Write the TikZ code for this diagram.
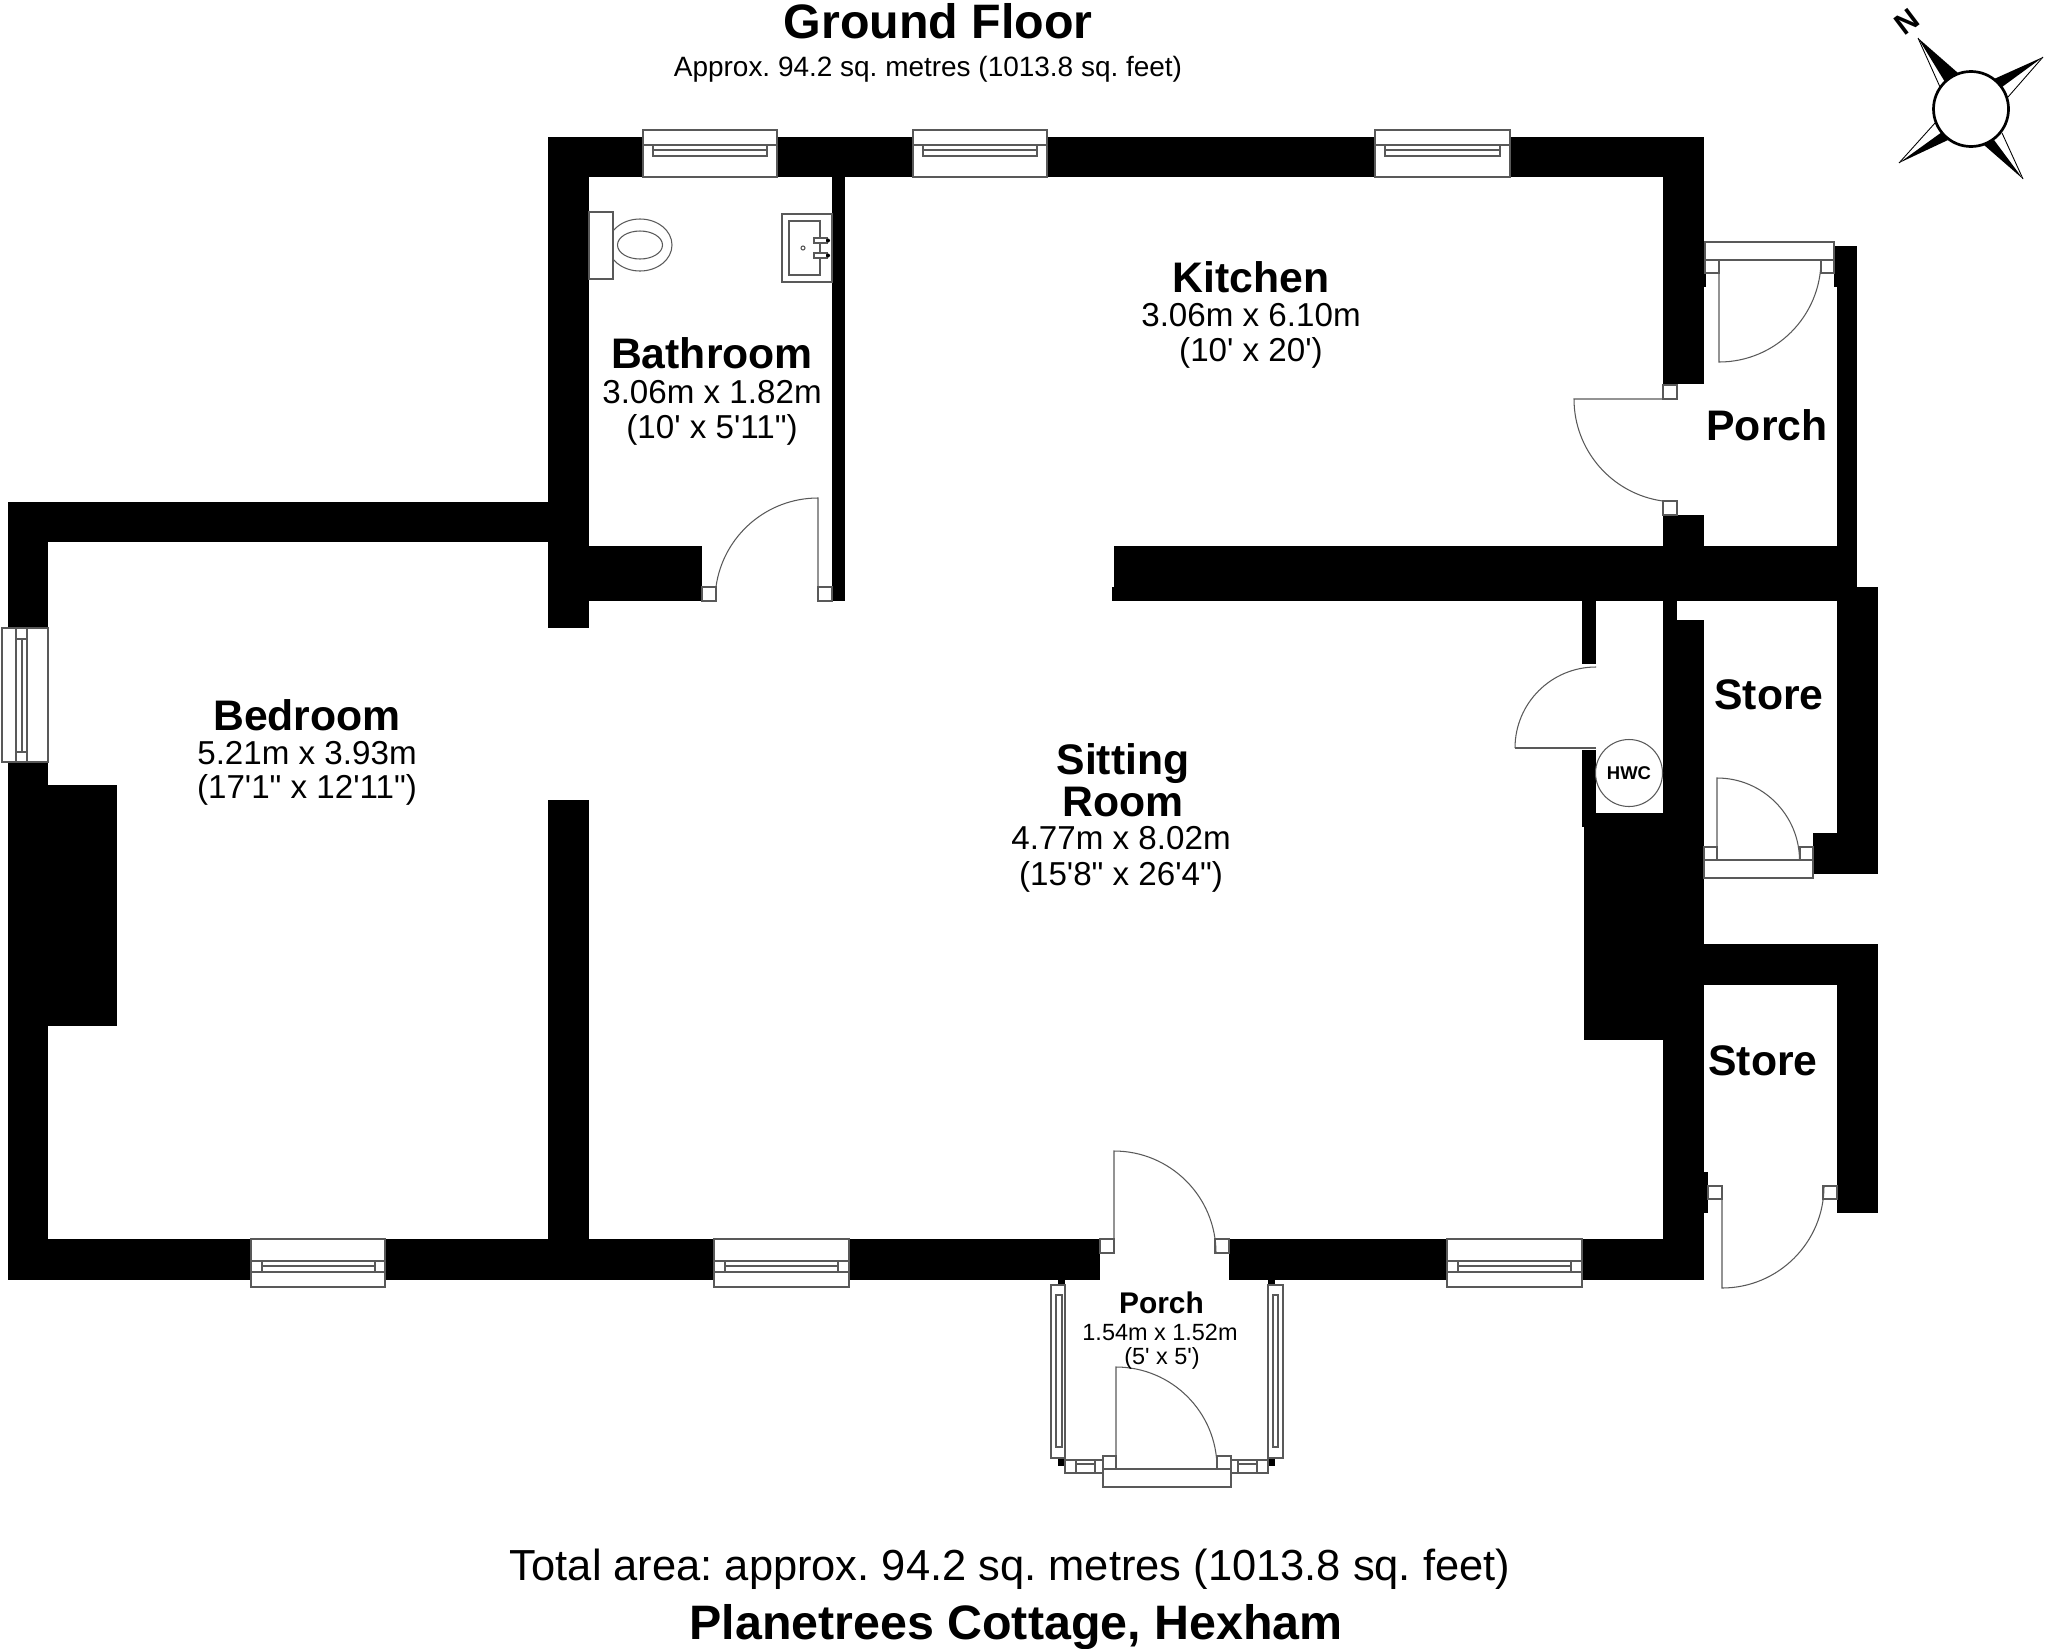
\documentclass[tikz,border=0pt]{standalone}
\usepackage{fontspec}
\newfontfamily\planfont{Liberation Sans}
\tikzset{
    wall/.style={fill=black},
    fitting/.style={draw=black!65,line width=0.3pt,fill=white},
    thin line/.style={draw=black!65,line width=0.3pt},
    title/.style={anchor=base,inner sep=0pt,font=\fontsize{13.75}{16}\selectfont\planfont\bfseries},
    subtitle/.style={anchor=base,inner sep=0pt,font=\fontsize{7.95}{9}\selectfont\planfont},
    total/.style={anchor=base,inner sep=0pt,font=\fontsize{12.36}{14}\selectfont\planfont},
    roomname/.style={anchor=base,inner sep=0pt,font=\fontsize{12.15}{14}\selectfont\planfont\bfseries},
    roomsize/.style={anchor=base,inner sep=0pt,font=\fontsize{9.43}{11}\selectfont\planfont},
    smallname/.style={anchor=base,inner sep=0pt,font=\fontsize{8.5}{10}\selectfont\planfont\bfseries},
    smallsize/.style={anchor=base,inner sep=0pt,font=\fontsize{6.67}{8}\selectfont\planfont}
}
\begin{document}
\frenchspacing
\begin{tikzpicture}[x=0.01cm,y=-0.01cm]
    \useasboundingbox (0,0) rectangle (2048,1648);

    % Outer and inner walls
    \fill[wall] (548,137) rectangle (1704,177);
    \fill[wall] (548,137) rectangle (589,628);
    \fill[wall] (8,502) rectangle (548,542);
    \fill[wall] (8,502) rectangle (48,1280);
    \fill[wall] (48,785) rectangle (117,1026);
    \fill[wall] (8,1239) rectangle (1100,1280);
    \fill[wall] (1229,1239) rectangle (1704,1280);
    \fill[wall] (548,800) rectangle (589,1280);
    \fill[wall] (589,546) rectangle (702,601);
    \fill[wall] (832,177) rectangle (845,601);

    % Kitchen and east side
    \fill[wall] (1114,546) rectangle (1857,587);
    \fill[wall] (1112,587) rectangle (1857,601);
    \fill[wall] (1663,137) rectangle (1704,384);
    \fill[wall] (1700,246) rectangle (1706,287);
    \fill[wall] (1663,515) rectangle (1704,547);
    \fill[wall] (1834,246) rectangle (1857,287);
    \fill[wall] (1837,246) rectangle (1857,587);

    % Stores and cupboard
    \fill[wall] (1837,587) rectangle (1878,874);
    \fill[wall] (1813,833) rectangle (1837,874);
    \fill[wall] (1663,601) rectangle (1677,620);
    \fill[wall] (1663,620) rectangle (1704,1280);
    \fill[wall] (1582,601) rectangle (1596,664);
    \fill[wall] (1582,750) rectangle (1596,827);
    \fill[wall] (1584,813) rectangle (1663,1040);
    \fill[wall] (1704,944) rectangle (1878,985);
    \fill[wall] (1837,985) rectangle (1878,1213);
    \fill[wall] (1704,1172) rectangle (1708,1213);

    % Windows
    \draw[fitting] (643,130) rectangle (777,177);
    \draw[thin line] (643,145) -- (777,145) (653,145) rectangle (767,156) (653,150) -- (767,150);
    \draw[fitting] (913,130) rectangle (1047,177);
    \draw[thin line] (913,145) -- (1047,145) (923,145) rectangle (1037,156) (923,150) -- (1037,150);
    \draw[fitting] (1375,130) rectangle (1510,177);
    \draw[thin line] (1375,145) -- (1510,145) (1385,145) rectangle (1500,156) (1385,150) -- (1500,150);
    \draw[fitting] (251,1239) rectangle (385,1287);
    \draw[thin line] (251,1261) -- (385,1261) (251,1272) -- (385,1272) (262,1261) rectangle (375,1272) (262,1266) -- (375,1266);
    \draw[fitting] (714,1239) rectangle (849,1287);
    \draw[thin line] (714,1261) -- (849,1261) (714,1272) -- (849,1272) (725,1261) rectangle (838,1272) (725,1266) -- (838,1266);
    \draw[fitting] (1447,1239) rectangle (1582,1287);
    \draw[thin line] (1447,1261) -- (1582,1261) (1447,1272) -- (1582,1272) (1458,1261) rectangle (1571,1272) (1458,1266) -- (1571,1266);
    \draw[fitting] (2,628) rectangle (48,762);
    \draw[thin line] (16,628) -- (16,762) (27,628) -- (27,762) (16,639) rectangle (27,752) (22,639) -- (22,752);

    % Bathroom door and fittings
    \draw[fitting] (702,587) rectangle (716,601);
    \draw[fitting] (818,587) rectangle (832,601);
    \draw[thin line] (818,601) -- (818,498) arc[start angle=270,end angle=188,radius=103];
    \draw[fitting] (640,245) ellipse [x radius=32,y radius=26];
    \draw[fitting] (640,245) ellipse [x radius=22.5,y radius=14];
    \draw[fitting] (589,212) rectangle (613,279);
    \draw[fitting] (782,214) rectangle (832,282);
    \draw[fitting] (789,221) rectangle (820,275);
    \draw[thin line] (803,248) circle (2);
    \draw[fitting] (814,238) rectangle (827,243);
    \draw[fitting] (814,253) rectangle (827,258);
    \fill (828,240.5) circle (2);
    \fill (828,255.5) circle (2);

    % Porch doors
    \draw[fitting] (1705,242) rectangle (1834,260);
    \draw[fitting] (1705,260) rectangle (1719,273);
    \draw[fitting] (1821,260) rectangle (1834,273);
    \draw[thin line] (1719,260) -- (1719,362) arc[start angle=90,end angle=0,radius=102];
    \draw[fitting] (1663,385) rectangle (1677,399);
    \draw[fitting] (1663,501) rectangle (1677,515);
    \draw[thin line] (1677,399) -- (1574,399) arc[start angle=180,end angle=98,radius=103];

    % Cupboard door and cylinder
    \draw[thin line] (1596,748) -- (1515,748);
    \draw[thin line] (1596,667) arc[start angle=270,end angle=180,radius=81];
    \draw[thin line] (1629,773) circle (33.5);
    \node[anchor=center,inner sep=0pt,font=\fontsize{5.25}{6}\selectfont\planfont\bfseries] (hwc) at (1629,773) {HWC};

    % Store doors
    \draw[fitting] (1704,860) rectangle (1813,878);
    \draw[fitting] (1704,847) rectangle (1717,860);
    \draw[fitting] (1800,847) rectangle (1813,860);
    \draw[thin line] (1717,860) -- (1717,778) arc[start angle=270,end angle=360,radius=82.5];
    \draw[fitting] (1708,1186) rectangle (1722,1199);
    \draw[fitting] (1823,1186) rectangle (1837,1199);
    \draw[thin line] (1722,1186) -- (1722,1288) arc[start angle=90,end angle=0,radius=102];

    % Front porch
    \draw[fitting] (1100,1239) rectangle (1114,1253);
    \draw[fitting] (1215,1239) rectangle (1229,1253);
    \draw[thin line] (1114,1253) -- (1114,1151) arc[start angle=270,end angle=360,radius=102];
    \fill[wall] (1058,1280) rectangle (1065,1285);
    \fill[wall] (1268,1280) rectangle (1275,1285);
    \fill[wall] (1058,1458) rectangle (1065,1466);
    \fill[wall] (1268,1458) rectangle (1275,1466);
    \draw[fitting] (1051,1285) rectangle (1065,1458);
    \draw[thin line] (1056,1295) rectangle (1062,1447);
    \draw[fitting] (1268,1285) rectangle (1283,1458);
    \draw[thin line] (1273,1295) rectangle (1278,1447);
    \draw[fitting] (1065,1460) rectangle (1103,1473);
    \draw[thin line] (1076,1464) rectangle (1095,1473) (1076,1460) -- (1076,1473) (1095,1460) -- (1095,1473);
    \draw[fitting] (1228,1460) rectangle (1268,1473);
    \draw[thin line] (1238,1464) rectangle (1257,1473) (1238,1460) -- (1238,1473) (1257,1460) -- (1257,1473);
    \draw[fitting] (1103,1469) rectangle (1231,1487);
    \draw[fitting] (1103,1456) rectangle (1116,1469);
    \draw[fitting] (1217,1456) rectangle (1231,1469);
    \draw[thin line] (1116,1469) -- (1116,1367) arc[start angle=270,end angle=360,radius=101];

    % Compass
    \fill (1918,38) -- (1958,73) -- (1945,82) -- cycle;
    \fill (2043,57) -- (1994,79) -- (2002,87) -- cycle;
    \fill (1899,163) -- (1942,132) -- (1948,140) -- cycle;
    \fill (2023,179) -- (1984,145) -- (1994,140) -- cycle;
    \draw[line width=0.25pt] (1918,38) -- (1940,87);
    \draw[line width=0.25pt] (2043,57) -- (2008,97);
    \draw[line width=0.25pt] (1899,163) -- (1935,123);
    \draw[line width=0.25pt] (2023,179) -- (2002,133);
    \draw[line width=0.77pt,fill=white] (1971,109) circle (37.5);
    \node[rotate=37,inner sep=0pt,font=\fontsize{8.5}{10}\selectfont\planfont\bfseries] (north) at (1907,22) {N};

    % Titles
    \node[title] (groundfloor) at (938,38) {Ground Floor};
    \node[subtitle] (approx) at (928,76) {Approx. 94.2 sq. metres (1013.8 sq. feet)};
    \node[total] (totalarea) at (1010,1580) {Total area: approx. 94.2 sq. metres (1013.8 sq. feet)};
    \node[title] (address) at (1016,1639) {Planetrees Cottage, Hexham};

    % Room labels
    \node[roomname] (kitchen) at (1251,292) {Kitchen};
    \node[roomsize] (kitchenm) at (1251,326) {3.06m x 6.10m};
    \node[roomsize] (kitchenft) at (1251,361) {(10' x 20')};
    \node[roomname] (bathroom) at (712,368) {Bathroom};
    \node[roomsize] (bathroomm) at (712,403) {3.06m x 1.82m};
    \node[roomsize] (bathroomft) at (712,438) {(10' x 5'11")};
    \node[roomname] (bedroom) at (307,730) {Bedroom};
    \node[roomsize] (bedroomm) at (307,764) {5.21m x 3.93m};
    \node[roomsize] (bedroomft) at (307,798) {(17'1" x 12'11")};
    \node[roomname] (sitting) at (1123,774) {Sitting};
    \node[roomname] (room) at (1123,816) {Room};
    \node[roomsize] (sittingm) at (1121,849) {4.77m x 8.02m};
    \node[roomsize] (sittingft) at (1121,885) {(15'8" x 26'4")};
    \node[roomname] (porcheast) at (1767,440) {Porch};
    \node[roomname] (storeone) at (1769,709) {Store};
    \node[roomname] (storetwo) at (1763,1075) {Store};
    \node[smallname] (porchfront) at (1161.5,1313) {Porch};
    \node[smallsize] (porchm) at (1160,1340) {1.54m x 1.52m};
    \node[smallsize] (porchft) at (1162,1364) {(5' x 5')};

\end{tikzpicture}
\end{document}
